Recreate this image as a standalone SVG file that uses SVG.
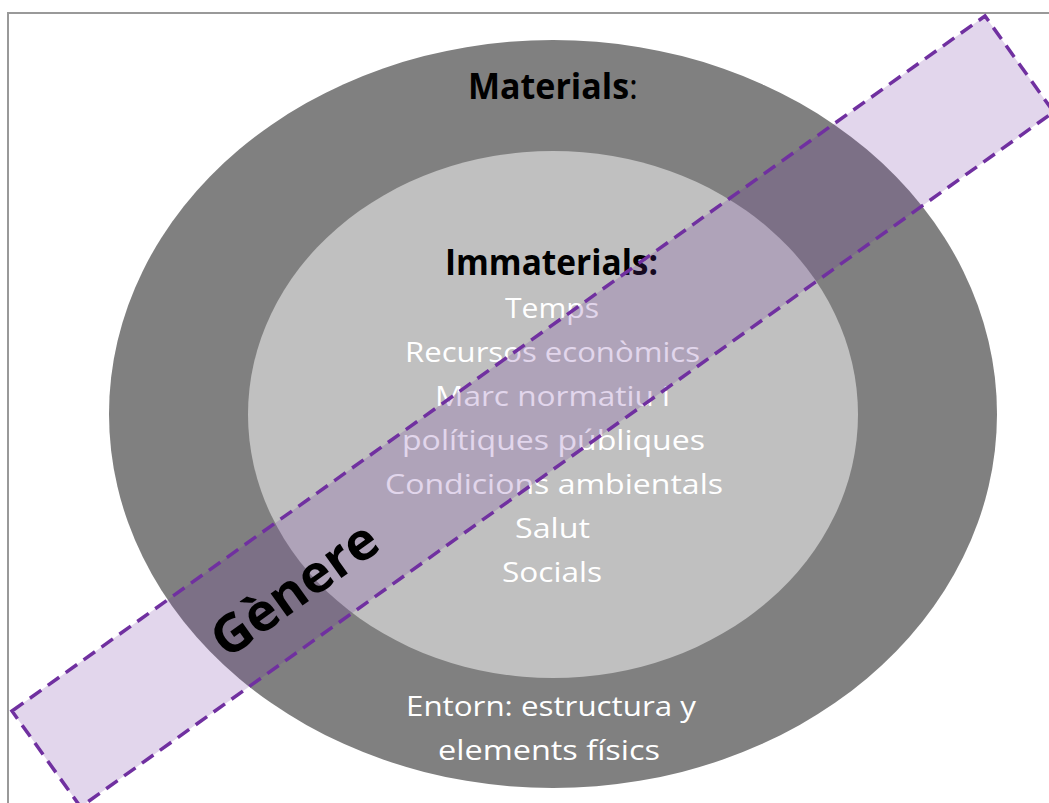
<svg xmlns="http://www.w3.org/2000/svg" width="1049" height="803" viewBox="0 0 1049 803">
<style>
.body{font-family:"Open Sans","Noto Sans","Liberation Sans",sans-serif;font-size:28px;fill:#ffffff;text-anchor:middle}
.head{font-family:"Open Sans","Noto Sans","Liberation Sans",sans-serif;font-size:35px;font-weight:bold;fill:#000000;text-anchor:middle}
</style>
<rect x="8" y="13" width="1060" height="800" fill="#ffffff" stroke="#999999" stroke-width="2"/>
<g id="materials">
<ellipse cx="553" cy="414" rx="444" ry="374" fill="#808080"/>
<text class="head" x="553" y="99" textLength="170" lengthAdjust="spacingAndGlyphs">Materials<tspan font-weight="normal">:</tspan></text>
<text class="body" x="551" y="716" textLength="290" lengthAdjust="spacingAndGlyphs">Entorn: estructura y</text>
<text class="body" x="549" y="760" textLength="222" lengthAdjust="spacingAndGlyphs">elements físics</text>
</g>
<g id="immaterials">
<ellipse cx="553" cy="414.5" rx="305" ry="263.5" fill="#c0c0c0"/>
<text class="head" x="551.5" y="275" textLength="213" lengthAdjust="spacingAndGlyphs">Immaterials:</text>
<text class="body" x="552" y="318" textLength="94" lengthAdjust="spacingAndGlyphs">Temps</text>
<text class="body" x="552.5" y="362" textLength="295" lengthAdjust="spacingAndGlyphs">Recursos econòmics</text>
<text class="body" x="552.5" y="406" textLength="235" lengthAdjust="spacingAndGlyphs">Marc normatiu i</text>
<text class="body" x="553.5" y="450" textLength="303" lengthAdjust="spacingAndGlyphs">polítiques públiques</text>
<text class="body" x="554" y="494" textLength="338" lengthAdjust="spacingAndGlyphs">Condicions ambientals</text>
<text class="body" x="552.5" y="538" textLength="75" lengthAdjust="spacingAndGlyphs">Salut</text>
<text class="body" x="552" y="582" textLength="100" lengthAdjust="spacingAndGlyphs">Socials</text>
</g>
<g id="genere">
<polygon points="12,711 985,16 1053.6,112 80.6,807" fill="#7030a0" fill-opacity="0.2" stroke="#7030a0" stroke-width="3.5" stroke-dasharray="14,8"/>
<text x="305" y="604" transform="rotate(-35.5 305 604)" font-family="'Open Sans','Noto Sans','Liberation Sans',sans-serif" font-size="52" font-weight="bold" fill="#000000" text-anchor="middle" textLength="192" lengthAdjust="spacingAndGlyphs">Gènere</text>
</g>
</svg>
